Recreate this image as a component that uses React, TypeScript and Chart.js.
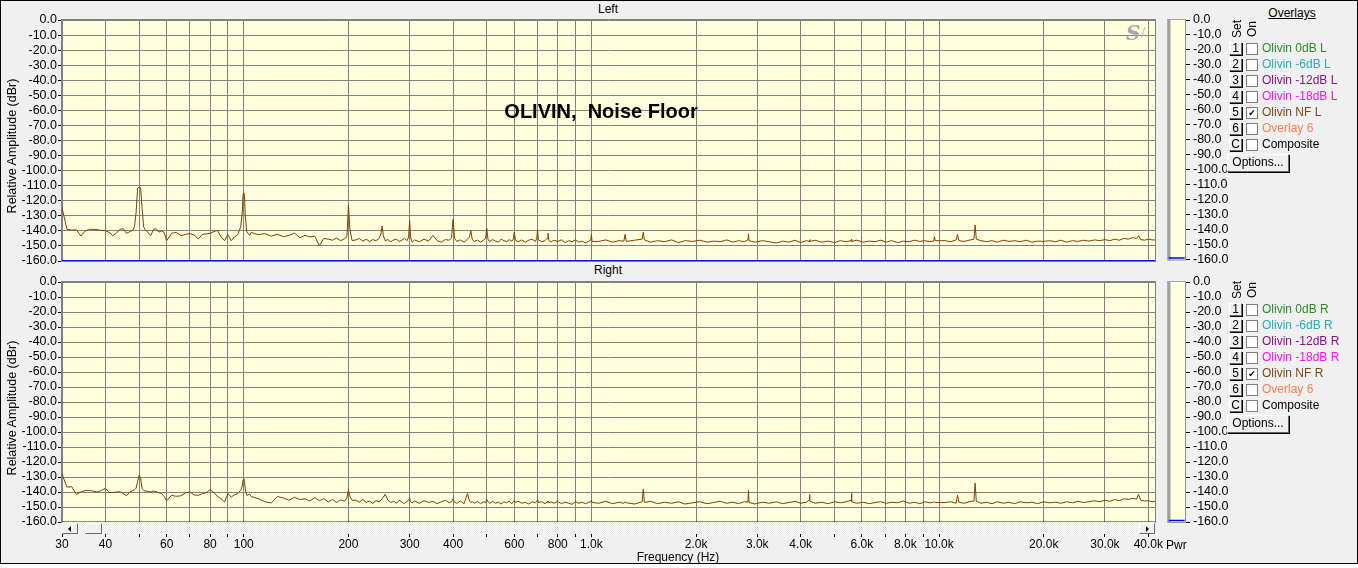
import React, { useEffect, useRef } from 'react';
import { Chart, registerables } from 'chart.js';

Chart.register(...registerables);

// ---------------- data ----------------
const freqHz = [
  // 30–52 Hz
  30, 31, 32, 33, 34, 35, 36, 37, 38, 39, 40, 41, 42, 43, 44, 45, 46, 47, 48, 48.5, 49, 49.5, 50, 50.5, 51, 51.5, 52,
  // 53–104 Hz
  53, 54, 55, 56, 57, 58, 59, 60,
  62, 64, 66, 68, 70, 72, 74, 76, 78, 80, 82, 84, 86, 88, 90, 92, 94, 96,
  97, 98, 99, 99.5, 100, 100.5, 101, 102, 104,
  // 105–195 Hz
  105, 110, 115, 120, 125, 130, 135, 140, 145, 150, 155, 160, 165, 170, 175, 180, 185, 190, 195,
  // 198–205 Hz
  198, 200, 202, 205,
  // 210–1004 Hz
  210, 215, 220, 225, 230, 235, 240, 245, 248, 250,
  252, 255, 260, 265, 270, 275, 280, 285, 290, 295,
  298, 300, 302, 305, 310, 320, 330, 340, 350, 360,
  370, 380, 390, 396, 400, 404, 410, 420, 430, 440,
  446, 450, 454, 460, 470, 480, 490, 496, 500, 504,
  510, 520, 530, 540, 550, 560, 570, 580, 590, 596,
  600, 604, 615, 630, 645, 660, 675, 690, 696, 700,
  704, 720, 735, 746, 750, 754, 765, 780, 800, 820,
  840, 860, 880, 900, 920, 940, 960, 980, 996, 1000,
  1004,
  // 1.05k–10k
  1050, 1100, 1150, 1200, 1240, 1250, 1260, 1330, 1400, 1410,
  1420, 1480, 1550, 1620, 1700, 1780, 1860, 1950, 2050, 2150,
  2250, 2350, 2450, 2550, 2650, 2750, 2820, 2830, 2840, 2950,
  3100, 3250, 3400, 3550, 3700, 3850, 4000, 4150, 4230, 4240,
  4250, 4400, 4600, 4800, 5000, 5200, 5400, 5590, 5600, 5610,
  5800, 6050, 6300, 6550, 6800, 7050, 7300, 7600, 7900, 8200,
  8500, 8800, 9100, 9400, 9650, 9700, 9750, 10000,
  // 10.4k–41.8k
  10400, 10800, 11200, 11300, 11400, 11800, 12200, 12600, 12700, 12800,
  13200, 13700, 14200, 14700, 15300, 15900, 16500, 17100, 17800, 18500,
  19200, 20000, 20800, 21600, 22400, 23300, 24200, 25100, 26000, 27000,
  28000, 29000, 30000, 31000, 32000, 33000, 34000, 35000, 36000, 37000,
  37500, 38000, 39000, 40000, 41000, 41800,
];

const leftDb = [
  -124.5, -139, -139.5, -139.3, -143.4, -140, -139, -139, -139.2, -139.8, -139.8, -141, -143.2, -141.5, -139, -138.5, -141.6, -140.5, -139.4, -137, -128, -112, -110.7, -111.5, -125, -137.2, -139,
  -141, -143.2, -139, -138.6, -140.8, -140, -141, -146.5,
  -141.6, -141, -143.2, -142.3, -141.8, -142.8, -145.4, -142.3, -142, -141.6, -140.5, -139.7, -143.9, -146.5, -142.5, -146.5, -144, -142.5,
  -140, -137.2, -128, -116, -114.7, -117, -130, -140.5, -143,
  -141, -142.5, -141.8, -143.5, -142.2, -143.9, -143, -141.5, -144.5, -143, -144, -143.5, -149.8, -145, -145.5, -146.2, -144.8, -146.5, -145.2,
  -144, -123, -139, -146.5,
  -146, -145, -146.8, -145.5, -147, -145.8, -146.5, -145, -142, -136.8,
  -143, -146.5, -145.8, -147.2, -146, -145.5, -147, -146.2, -145, -146.5,
  -144, -133.2, -144.5, -147.5, -146, -147.2, -145.5, -146.8, -143, -146.5,
  -147.5, -145.8, -146.2, -144.5, -132.4, -145, -147, -146, -147.5, -145.5,
  -144, -140, -145.5, -147, -146.2, -147.5, -146, -145, -138.3, -145.5,
  -147, -145.8, -146.8, -147.5, -145.5, -146.5, -147.2, -145.8, -146.8, -145.5,
  -140.8, -146, -147.2, -146, -147.5, -146.2, -145.5, -147, -145, -139.4,
  -146, -147.2, -146.5, -145, -141.6, -146.5, -147.5, -146.2, -147, -146,
  -147.8, -146.5, -147.2, -146, -147.5, -146.8, -148, -147, -146, -142.3,
  -147,
  -147, -146, -147.5, -146.5, -146.8, -142.3, -147, -146.2, -145.5, -140.8,
  -146, -147.5, -146.5, -147.2, -146, -147.8, -146.5, -147, -146.2, -147.5,
  -146.8, -147.2, -146, -147.5, -146.5, -147.2, -146, -142, -146.5, -147.5,
  -146.5, -147.2, -148, -146.8, -147.5, -146.2, -147.8, -146.5, -147, -145.8,
  -147, -146.2, -147.5, -146.8, -147.8, -146.5, -147.2, -146.5, -145.5, -147,
  -146.2, -147.5, -146.8, -147.2, -146.2, -147.5, -146.5, -147.8, -146.8, -147.2,
  -146.2, -147, -146.5, -147.2, -146.8, -143.9, -146.5, -146.5,
  -146.5, -147.2, -146, -142.4, -146.5, -147, -146.2, -145.5, -136.1, -145.5,
  -146.5, -147.2, -146.5, -147.5, -146.2, -147, -146.5, -147.2, -146.2, -147.5,
  -146.8, -147, -146.5, -147.2, -146.2, -147.5, -146.5, -147, -146.2, -146.8,
  -146, -146.5, -145.8, -146.5, -145.5, -146.2, -145, -145.5, -144.5, -145,
  -143.2, -145.8, -146.2, -145.5, -146, -146,
];

const rightDb = [
  -128, -136.7, -136.5, -141.6, -140, -139, -138.9, -139.5, -140, -138.9, -137.5, -140.3, -140.3, -140, -139.8, -141, -142.5, -140, -139, -138.5, -137.5, -133, -129, -131, -137.8, -138.9, -139.3,
  -139.5, -140, -139.3, -139.8, -140.5, -141, -143, -145.8,
  -142.2, -142.9, -142.5, -140.5, -140, -142, -142.2, -141.1, -140.5, -138.4, -140.2, -143, -144.4, -146.7, -141.1, -143.3, -142, -141.1,
  -140, -138.9, -136, -132, -131, -133, -138, -142.2, -141.5,
  -143, -144.4, -146.5, -147.3, -143, -144, -145.5, -143.5, -145, -144.5, -146, -143.8, -145.8, -144.5, -146.5, -145, -147, -145.2, -146,
  -144, -138.5, -143, -145.5,
  -145.5, -146.8, -145, -147, -146, -147.5, -145.8, -146.5, -145.5, -144.5,
  -143.5, -141.5, -145.5, -147, -146.2, -147.5, -145.5, -146.8, -147.8, -146,
  -145.5, -144.5, -146.5, -147.2, -146, -147.5, -145.8, -147, -146.2, -147.8,
  -146.5, -145.5, -147.2, -146.5, -144.5, -146.8, -147.5, -146, -147.8, -141,
  -146, -147, -146.5, -147.5, -146.2, -147.8, -146.5, -147, -145, -146.5,
  -147.5, -146.2, -147.5, -146.8, -148, -146.5, -147.2, -146, -147.8, -146.5,
  -145.5, -147, -146.2, -147.5, -146.8, -148, -146.5, -147.2, -146.5, -145,
  -147, -146.5, -147.8, -146.8, -146, -147.2, -146.5, -147.5, -146.2, -147.8,
  -146.8, -147.5, -148.2, -146.5, -147.5, -146.8, -147.8, -147, -146.5, -145.5,
  -147,
  -147.5, -146.2, -147.8, -146.8, -147.5, -146.5, -147.2, -148, -146.5, -138.2,
  -147, -146.2, -147.8, -146.8, -147.5, -146.5, -148, -147.2, -146.5, -147.8,
  -147, -146.2, -147.5, -146.8, -147.8, -146.5, -146.8, -138.9, -147, -148,
  -146.8, -147.5, -146.5, -147.8, -147, -146.2, -147.5, -146.8, -145.5, -141.6,
  -146, -147.5, -146.8, -147.8, -146.5, -147.2, -146.5, -145.5, -141, -146.5,
  -147.5, -146.8, -147.8, -147, -146.5, -147.5, -146.8, -147.2, -146, -147.5,
  -146.8, -147.8, -146.5, -147.2, -146.8, -146.5, -147, -147,
  -147, -146.5, -147.5, -142.2, -146.8, -147.5, -146.5, -146, -134, -146.2,
  -147.5, -146.8, -147.8, -146.5, -147.5, -146.8, -147.8, -146.5, -147.2, -146.8,
  -147.8, -146.5, -147.2, -146.8, -147.5, -146.5, -147.2, -146.2, -147, -146.5,
  -145.8, -146.5, -145.5, -146.2, -145, -145.8, -144.5, -145, -144.2, -144.8,
  -141.6, -145.5, -146, -145.8, -146.5, -146.2,
];

const floorHz = [30, 41800];
const floorDb = [-160, -160];
const pwrLevelDb = [-159];

const freqTicks = [
  30, 40, 50, 60, 70, 80, 90,
  100, 200, 300, 400, 500, 600, 700, 800, 900,
  1000, 2000, 3000, 4000, 5000, 6000, 7000, 8000, 9000,
  10000, 20000, 30000, 40000,
];
const freqTickLabels = [
  '30', '40', '', '60', '', '80', '',
  '100', '200', '300', '400', '', '600', '', '800', '',
  '1.0k', '2.0k', '3.0k', '4.0k', '', '6.0k', '', '8.0k', '',
  '10.0k', '20.0k', '30.0k', '40.0k',
];
const dbTicks = [-160, -150, -140, -130, -120, -110, -100, -90, -80, -70, -60, -50, -40, -30, -20, -10, 0];

const overlayButtons = ['1', '2', '3', '4', '5', '6', 'C'];
const overlayNamesLeft = ['Olivin 0dB L', 'Olivin -6dB L', 'Olivin -12dB L', 'Olivin -18dB L', 'Olivin NF L', 'Overlay 6', 'Composite'];
const overlayNamesRight = ['Olivin 0dB R', 'Olivin -6dB R', 'Olivin -12dB R', 'Olivin -18dB R', 'Olivin NF R', 'Overlay 6', 'Composite'];
const overlayColors = ['#2a8a2a', '#22b0b0', '#8a108a', '#ff10ff', '#7a4a1a', '#ff8050', '#000000'];
const overlayChecked = [false, false, false, false, true, false, false];

// ---------------- styles ----------------
const FONT = '"Liberation Sans", Arial, Helvetica, sans-serif';
const PLOT_BG = '#ffffdd';
const GRID_COLOR = '#808080';
const TRACE_COLOR = '#804000';
const FLOOR_COLOR = '#0000ff';

Chart.defaults.font.family = FONT;

const plotFramePlugin = {
  id: 'plotFrame',
  beforeDraw(chart: any) {
    const { ctx, chartArea: a } = chart;
    ctx.save();
    ctx.fillStyle = PLOT_BG;
    ctx.fillRect(a.left, a.top, a.right - a.left, a.bottom - a.top);
    ctx.restore();
  },
  beforeDatasetsDraw(chart: any) {
    const { ctx, chartArea: a } = chart;
    ctx.save();
    ctx.strokeStyle = GRID_COLOR;
    ctx.lineWidth = 1;
    ctx.strokeRect(a.left - 0.5, a.top - 0.5, a.right - a.left + 1, a.bottom - a.top + 1);
    ctx.restore();
  },
};

const pwrFramePlugin = {
  id: 'pwrFrame',
  beforeDraw(chart: any) {
    const { ctx, chartArea: a } = chart;
    ctx.save();
    ctx.fillStyle = PLOT_BG;
    ctx.fillRect(a.left, a.top, a.right - a.left, a.bottom - a.top);
    ctx.strokeStyle = '#909090';
    ctx.lineWidth = 1;
    ctx.strokeRect(a.left + 0.5, a.top - 0.5, a.right - a.left - 1, a.bottom - a.top + 1);
    ctx.fillStyle = '#a0a0a0';
    ctx.fillRect(a.left, a.top - 1, 3, a.bottom - a.top + 2);
    ctx.fillRect(a.left, a.top - 1, a.right - a.left, 1);
    ctx.restore();
  },
};

function mainConfig(values: number[], withLabels: boolean, floorWidth: number): any {
  return {
    type: 'line',
    data: {
      datasets: [
        {
          data: freqHz.map((f, i) => ({ x: f, y: values[i] })),
          borderColor: TRACE_COLOR,
          borderWidth: 1,
          pointRadius: 0,
          tension: 0,
          fill: false,
        },
        {
          data: floorHz.map((f, i) => ({ x: f, y: floorDb[i] })),
          borderColor: FLOOR_COLOR,
          borderWidth: floorWidth,
          pointRadius: 0,
          fill: false,
        },
      ],
    },
    options: {
      responsive: false,
      animation: false,
      events: [],
      layout: { padding: { top: 20, right: 45, bottom: 0, left: 0 } },
      plugins: { legend: { display: false }, tooltip: { enabled: false }, title: { display: false } },
      scales: {
        x: {
          type: 'logarithmic',
          min: 30,
          max: 41800,
          afterBuildTicks: (s: any) => {
            s.ticks = freqTicks.map((value) => ({ value }));
          },
          afterFit: (s: any) => {
            s.height = withLabels ? 46 : 9;
          },
          border: { display: false },
          grid: {
            color: GRID_COLOR,
            lineWidth: 1,
            drawTicks: withLabels,
            tickLength: 15,
            tickColor: '#000000',
            tickWidth: 1,
          },
          ticks: {
            display: withLabels,
            autoSkip: false,
            maxRotation: 0,
            minRotation: 0,
            padding: 0,
            color: '#000000',
            font: { family: FONT, size: 12 },
            callback: (_v: any, i: number) => freqTickLabels[i],
          },
        },
        y: {
          type: 'linear',
          min: -160,
          max: 0,
          afterBuildTicks: (s: any) => {
            s.ticks = dbTicks.map((value) => ({ value }));
          },
          afterFit: (s: any) => {
            s.width = 62;
          },
          border: { display: false },
          grid: { color: GRID_COLOR, lineWidth: 1, tickLength: 4, tickColor: '#000000' },
          ticks: {
            autoSkip: false,
            padding: 1,
            color: '#000000',
            font: { family: FONT, size: 12.5 },
            callback: (v: any) => Number(v).toFixed(1),
          },
        },
      },
    },
    plugins: [plotFramePlugin],
  };
}

function pwrConfig(bottomPad: number): any {
  return {
    type: 'line',
    data: {
      labels: ['Pwr'],
      datasets: [
        {
          data: pwrLevelDb,
          showLine: false,
          pointStyle: 'line',
          pointRadius: 8,
          pointBorderColor: FLOOR_COLOR,
          pointBorderWidth: 1.5,
          borderColor: FLOOR_COLOR,
        },
      ],
    },
    options: {
      responsive: false,
      animation: false,
      events: [],
      layout: { padding: { top: 20, right: 0, bottom: bottomPad, left: 6 } },
      plugins: { legend: { display: false }, tooltip: { enabled: false } },
      scales: {
        x: { display: false, offset: true },
        y: {
          position: 'right',
          min: -160,
          max: 0,
          afterBuildTicks: (s: any) => {
            s.ticks = dbTicks.map((value) => ({ value }));
          },
          afterFit: (s: any) => {
            s.width = 62;
          },
          border: { display: false },
          grid: { drawOnChartArea: false, tickLength: 4, tickColor: '#000000' },
          ticks: {
            autoSkip: false,
            padding: 3,
            color: '#000000',
            font: { family: FONT, size: 12.5 },
            callback: (v: any) => Number(v).toFixed(1),
          },
        },
      },
    },
    plugins: [pwrFramePlugin],
  };
}

// ---------------- components ----------------
function ChartCanvas(props: { left: number; top: number; width: number; height: number; make: () => any }) {
  const ref = useRef<HTMLCanvasElement | null>(null);
  useEffect(() => {
    if (!ref.current) return;
    const chart = new Chart(ref.current, props.make());
    return () => chart.destroy();
  }, []);
  return (
    <canvas
      ref={ref}
      width={props.width}
      height={props.height}
      style={{ position: 'absolute', left: props.left, top: props.top, width: props.width, height: props.height, display: 'block' }}
    />
  );
}

function Txt(props: { x: number; y: number; text: string; center?: boolean; size?: number; color?: string; style?: any }) {
  const size = props.size || 12;
  return (
    <div
      style={{
        position: 'absolute',
        left: props.x,
        top: props.y - 7,
        height: 14,
        lineHeight: '14px',
        fontSize: size,
        color: props.color || '#000',
        whiteSpace: 'pre',
        transform: props.center ? 'translateX(-50%)' : undefined,
        ...(props.style || {}),
      }}
    >
      {props.text}
    </div>
  );
}

function Rotated(props: { cx: number; cy: number; text: string; size: number }) {
  return (
    <div
      style={{
        position: 'absolute',
        left: props.cx,
        top: props.cy,
        fontSize: props.size,
        lineHeight: '14px',
        whiteSpace: 'nowrap',
        transform: 'translate(-50%, -50%) rotate(-90deg)',
        color: '#000',
      }}
    >
      {props.text}
    </div>
  );
}

const raised = {
  position: 'absolute' as const,
  boxSizing: 'border-box' as const,
  background: '#f0f0f0',
  borderTop: '1px solid #ffffff',
  borderLeft: '1px solid #ffffff',
  borderRight: '1px solid #696969',
  borderBottom: '1px solid #696969',
};

function OverlayPanel(props: { dy: number; names: string[]; showTitle: boolean }) {
  const dy = props.dy;
  return (
    <>
      {props.showTitle && (
        <Txt x={1292} y={13} text="Overlays" center style={{ textDecoration: 'underline' }} />
      )}
      <Rotated cx={1236.5} cy={29 + dy} text="Set" size={12} />
      <Rotated cx={1251.5} cy={29 + dy} text="On" size={12} />
      {overlayButtons.map((b, i) => {
        const cy = 48 + 16 * i + dy;
        return (
          <React.Fragment key={b}>
            <div
              style={{
                ...raised,
                left: 1229,
                top: cy - 6,
                width: 13,
                height: 13,
                fontSize: 12,
                lineHeight: '11px',
                textAlign: 'center',
                boxShadow: '1px 1px 0 #000',
              }}
            >
              {b}
            </div>
            <div
              style={{
                position: 'absolute',
                left: 1246,
                top: cy - 5,
                width: 12,
                height: 12,
                boxSizing: 'border-box',
                background: '#ffffff',
                border: '1px solid #808080',
                fontFamily: '"DejaVu Sans", sans-serif',
                fontSize: 9,
                lineHeight: '10px',
                textAlign: 'center',
                color: '#000',
              }}
            >
              {overlayChecked[i] ? '\u2714' : ''}
            </div>
            <Txt x={1262} y={cy} text={props.names[i]} color={overlayColors[i]} />
          </React.Fragment>
        );
      })}
      <div
        style={{
          ...raised,
          left: 1227,
          top: 154 + dy,
          width: 62,
          height: 18,
          fontSize: 12,
          lineHeight: '15px',
          textAlign: 'center',
          boxShadow: '1px 1px 0 #000',
        }}
      >
        Options...
      </div>
    </>
  );
}

function ScrollBar() {
  return (
    <>
      <div
        style={{
          position: 'absolute',
          left: 62,
          top: 522,
          width: 1093,
          height: 12,
          background: 'repeating-conic-gradient(#ffffff 0% 25%, #e4e4e4 0% 50%) 0 0 / 2px 2px',
        }}
      />
      <div style={{ ...raised, left: 62, top: 523, width: 16, height: 11 }}>
        <div
          style={{
            position: 'absolute',
            left: 5,
            top: 2,
            width: 0,
            height: 0,
            borderTop: '3px solid transparent',
            borderBottom: '3px solid transparent',
            borderRight: '3px solid #000',
          }}
        />
      </div>
      <div style={{ ...raised, left: 85, top: 523, width: 17, height: 11 }} />
      <div style={{ ...raised, left: 1139, top: 523, width: 16, height: 11 }}>
        <div
          style={{
            position: 'absolute',
            left: 6,
            top: 2,
            width: 0,
            height: 0,
            borderTop: '3px solid transparent',
            borderBottom: '3px solid transparent',
            borderLeft: '3px solid #000',
          }}
        />
      </div>
    </>
  );
}

export default function App() {
  return (
    <div
      style={{
        position: 'fixed',
        left: 0,
        top: 0,
        width: 1358,
        height: 568,
        background: '#ffffff',
        fontFamily: FONT,
        overflow: 'hidden',
      }}
    >
      <div
        style={{
          position: 'absolute',
          left: 0,
          top: 0,
          width: 1358,
          height: 564,
          boxSizing: 'border-box',
          border: '1px solid #000',
          background: '#f0f0f0',
        }}
      />
      <Txt x={608} y={9} text="Left" center />
      <Txt x={608} y={270} text="Right" center />

      <ChartCanvas left={0} top={0} width={1200} height={270} make={() => mainConfig(leftDb, false, 2)} />
      <ChartCanvas left={0} top={262} width={1200} height={306} make={() => mainConfig(rightDb, true, 1)} />
      <ChartCanvas left={1158} top={0} width={90} height={270} make={() => pwrConfig(9)} />
      <ChartCanvas left={1158} top={262} width={90} height={306} make={() => pwrConfig(46)} />

      <Rotated cx={12} cy={146} text="Relative Amplitude (dBr)" size={12.5} />
      <Rotated cx={12} cy={408} text="Relative Amplitude (dBr)" size={12.5} />

      <div
        style={{
          position: 'absolute',
          left: 601,
          top: 100,
          lineHeight: '22px',
          fontSize: 20,
          fontWeight: 'bold',
          whiteSpace: 'pre',
          transform: 'translateX(-50%)',
          color: '#000',
        }}
      >
        {'OLIVIN,  Noise Floor'}
      </div>

      <div
        style={{
          position: 'absolute',
          left: 1126,
          top: 21,
          fontFamily: '"DejaVu Serif", serif',
          fontStyle: 'italic',
          fontWeight: 'bold',
          fontSize: 20,
          lineHeight: '24px',
          color: '#a8a8a8',
        }}
      >
        S
      </div>
      <div
        style={{
          position: 'absolute',
          left: 1141,
          top: 24,
          fontFamily: '"DejaVu Sans", sans-serif',
          fontSize: 13,
          lineHeight: '16px',
          color: '#b8b8b8',
        }}
      >
        /
      </div>

      <ScrollBar />

      <Txt x={678} y={557} text="Frequency (Hz)" center />
      <Txt x={1166} y={545} text="Pwr" />

      <OverlayPanel dy={0} names={overlayNamesLeft} showTitle />
      <OverlayPanel dy={261} names={overlayNamesRight} showTitle={false} />
    </div>
  );
}
